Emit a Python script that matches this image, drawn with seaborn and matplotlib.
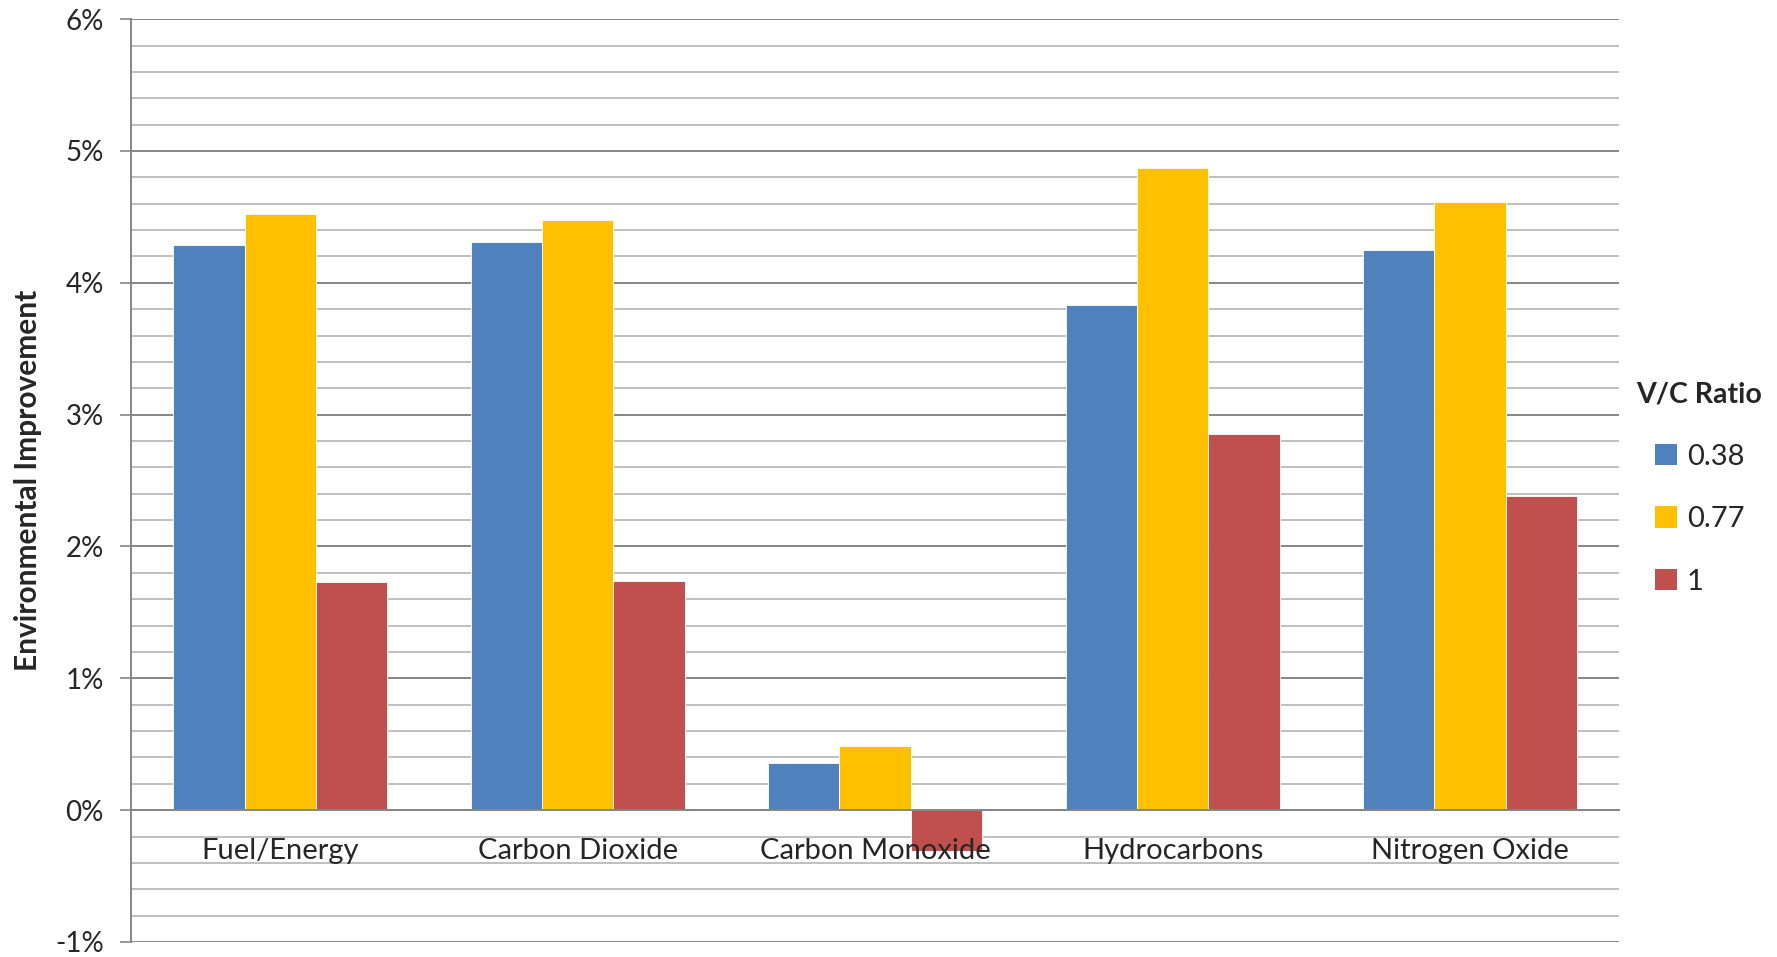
import matplotlib
matplotlib.use("Agg")
import matplotlib.pyplot as plt
from matplotlib.ticker import MultipleLocator, FuncFormatter
from matplotlib.patches import Patch
import pandas as pd
import seaborn as sns

# Data: environmental improvement (%) by pollutant and V/C ratio
categories = ["Fuel/Energy", "Carbon Dioxide", "Carbon Monoxide", "Hydrocarbons", "Nitrogen Oxide"]
ratios = ["0.38", "0.77", "1"]
vc_038 = [4.29, 4.31, 0.36, 3.83, 4.25]
vc_077 = [4.52, 4.48, 0.49, 4.87, 4.61]
vc_100 = [1.73, 1.74, -0.31, 2.85, 2.38]
colors = ["#4F81BD", "#FFC000", "#C0504D"]

df = pd.DataFrame({
    "category": categories * 3,
    "ratio": [ratios[0]] * 5 + [ratios[1]] * 5 + [ratios[2]] * 5,
    "value": vc_038 + vc_077 + vc_100,
})

sns.set_theme(style="white")
plt.rcParams["font.family"] = ["Lato", "DejaVu Sans"]

fig = plt.figure(figsize=(17.77, 9.57), dpi=100)
ax = fig.add_axes([0.074, 0.0157, 0.837, 0.9643])

sns.barplot(data=df, x="category", y="value", hue="ratio", order=categories,
            hue_order=ratios, palette=colors, width=0.72, saturation=1,
            edgecolor="white", linewidth=0.6, ax=ax, legend=False, zorder=3)

ax.set_xlim(-0.5, 4.5)
ax.set_ylim(-1, 6)

# gridlines: major every 1%, minor every 0.2%
ax.yaxis.set_major_locator(MultipleLocator(1))
ax.yaxis.set_minor_locator(MultipleLocator(0.2))
ax.grid(which="major", axis="y", color="#868686", linewidth=1.4, zorder=0)
ax.grid(which="minor", axis="y", color="#bfbfbf", linewidth=1.4, zorder=0)
ax.grid(which="major", axis="x", visible=False)
ax.set_axisbelow(True)
# category labels sit on top of the bars
ax.xaxis.set_zorder(5)

ax.yaxis.set_major_formatter(FuncFormatter(lambda v, p: f"{v:.0f}%".replace("\u2212", "-")))
ax.tick_params(axis="y", which="major", direction="out", length=8, width=1.2,
               color="#868686", labelsize=20, pad=12, left=True)
ax.tick_params(axis="y", which="minor", length=0)
ax.tick_params(axis="x", length=0, labelsize=21, pad=20)

for side in ["top", "right"]:
    ax.spines[side].set_visible(False)
ax.spines["left"].set_color("#868686")
ax.spines["left"].set_linewidth(1.4)
ax.spines["bottom"].set_position(("data", 0))
ax.spines["bottom"].set_color("#868686")
ax.spines["bottom"].set_linewidth(1.4)
ax.spines["bottom"].set_zorder(4)

ax.set_xlabel("")
ax.set_ylabel("Environmental Improvement", fontsize=21.5, fontweight="bold", labelpad=9)

handles = [Patch(facecolor=c, edgecolor="none") for c in colors]
leg = fig.legend(handles, ratios, title="V/C Ratio", loc="center left",
                 bbox_to_anchor=(0.921, 0.49), frameon=False, fontsize=21,
                 title_fontproperties={"weight": "bold", "size": 20.5},
                 handlelength=0.75, handleheight=0.75, labelspacing=1.25,
                 handletextpad=0.35, borderaxespad=0, borderpad=0)

fig.savefig("out.png", dpi=100)
